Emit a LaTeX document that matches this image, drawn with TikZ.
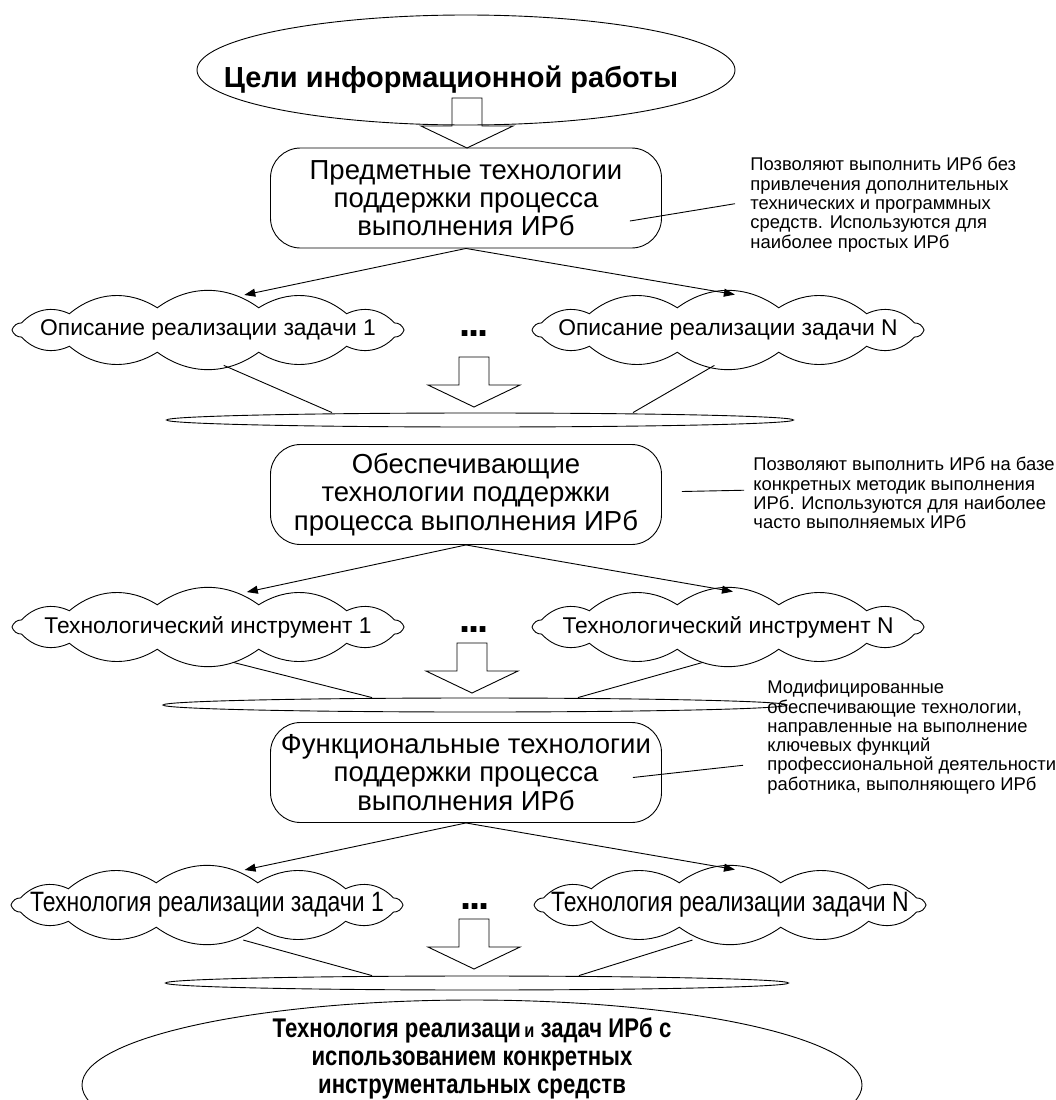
\documentclass[tikz,border=0pt]{standalone}
\usepackage{fontspec}
\setmainfont{Liberation Sans}
\newfontfamily\narrowfont[FakeStretch=0.82]{Liberation Sans}
\usetikzlibrary{positioning, arrows.meta, shapes.geometric, calc}
% hollow block arrow pointing down, tip at #1
\newcommand{\hollowdown}[1]{\draw (#1) -- ++(-46,-22) -- ++(31,0) -- ++(0,-28) -- ++(30,0) -- ++(0,28) -- ++(31,0) -- cycle;}
% puffy outline round the task node #1
\newcommand{\puffs}[1]{\draw ($(#1.center)+(196,0)$)
  \foreach \t in {18,45,75,105,135,162,180,198,225,255,285,315,342,360} {
    to[bend left=36] ($(#1.center)+({196*cos(\t)},{23*sin(\t)})$) } -- cycle;}

\begin{document}
\begin{tikzpicture}[
    x=1pt, y=-1pt,
    line width=0.9pt,
    >={Triangle[length=11pt, width=8pt]},
    goal/.style={ellipse, draw, inner sep=0pt},
    goaltext/.style={font=\fontsize{29}{31}\selectfont\bfseries},
    techbox/.style={draw, rounded corners=30pt, minimum width=391pt, minimum height=100pt, align=center, font=\fontsize{27.5}{28.3}\selectfont},
    task/.style={ellipse, minimum width=392pt, minimum height=70pt, inner sep=0pt, font=\fontsize{22.8}{24}\selectfont},
    narrowtask/.style={task, font=\narrowfont\fontsize{28}{29}\selectfont},
    collector/.style={ellipse, draw, inner sep=0pt, minimum height=14pt},
    note/.style={anchor=north west, align=left, inner sep=0pt, font=\fontsize{18.4}{19.3}\selectfont},
    dots/.style={inner sep=0pt, font=\fontsize{40}{40}\selectfont\bfseries}
  ]
  \useasboundingbox (0,0) rectangle (1056,1100);

  % --- GOAL ---
  \node[goal, minimum width=538pt, minimum height=110pt,
        label={[goaltext, xshift=-15pt, yshift=-10pt]center:Цели информационной работы}] (goal) at (466,70) {};
  \coordinate (a0) at (467,148);
  \hollowdown{a0}

  % --- LEVEL 1: subject technologies ---
  \node[techbox] (tech1) at (466,198) {Предметные технологии\\поддержки процесса\\выполнения ИРб};
  \node[note] (note1) at (750,157) {Позволяют выполнить ИРб без\\привлечения дополнительных\\технических и программных\\средств. Используются для\\наиболее простых ИРб};
  \coordinate (tag1) at ($(tech1.east)+(-32,23)$);
  \draw (tag1) -- ($(note1.west)+(-15,-1)$);

  \node[task] (desc1) at (208,330) {Описание реализации задачи 1};
  \node[dots] (dots1) at (474,334) {.\kern-2pt.\kern-2pt.};
  \node[task] (descN) at (728,330) {Описание реализации задачи N};
  \puffs{desc1} \puffs{descN}
  \draw[->] (tech1.south) -- (desc1.44);
  \draw[->] (tech1.south) -- (descN.79);

  \coordinate (a1) at (474,407);
  \hollowdown{a1}
  \node[collector, minimum width=627pt] (sum1) at (480,420) {};
  \draw (desc1.-66) -- ($(sum1.north)+(-148,0)$);
  \draw (descN.-111) -- ($(sum1.north)+(153,0)$);

  % --- LEVEL 2: supporting technologies ---
  \node[techbox] (tech2) at (466,494.5) {Обеспечивающие\\технологии поддержки\\процесса выполнения ИРб};
  \node[note] (note2) at (753,457) {Позволяют выполнить ИРб на базе\\конкретных методик выполнения\\ИРб. Используются для наиболее\\часто выполняемых ИРб};
  \coordinate (tag2) at ($(tech2.east)+(20,-3)$);
  \draw (tag2) -- ($(note2.west)+(-9,-3)$);

  \node[task] (tool1) at (208,627) {Технологический инструмент 1};
  \node[dots] (dots2) at (474,630) {.\kern-2pt.\kern-2pt.};
  \node[task] (toolN) at (728,627) {Технологический инструмент N};
  \puffs{tool1} \puffs{toolN}
  \draw[->] (tech2.south) -- (tool1.42);
  \draw[->] (tech2.south) -- (toolN.82);

  \coordinate (a2) at (472,693);
  \hollowdown{a2}
  \node[collector, minimum width=624pt] (sum2) at (475,705) {};
  \draw (tool1.-55) -- ($(sum2.north)+(-103,0)$);
  \draw (toolN.-125) -- ($(sum2.north)+(103,0)$);

  % --- LEVEL 3: functional technologies ---
  \node[techbox] (tech3) at (466,772.5) {Функциональные технологии\\поддержки процесса\\выполнения ИРб};
  \node[note] (note3) at (767,680) {Модифицированные\\обеспечивающие технологии,\\направленные на выполнение\\ключевых функций\\профессиональной деятельности\\работника, выполняющего ИРб};
  \coordinate (tag3) at ($(tech3.east)+(-29,5)$);
  \draw (tag3) -- ($(note3.west)+(-24,28)$);

  \node[narrowtask] (impl1) at (207,905) {Технология реализации задачи 1};
  \node[dots] (dots3) at (475,907) {.\kern-2pt.\kern-2pt.};
  \node[narrowtask] (implN) at (730,905) {Технология реализации задачи N};
  \puffs{impl1} \puffs{implN}
  \draw[->] (tech3.south) -- (impl1.43);
  \draw[->] (tech3.south) -- (implN.82);

  \coordinate (a3) at (474,969);
  \hollowdown{a3}
  \node[collector, minimum width=623pt] (sum3) at (477,983) {};
  \draw (impl1.-44) -- ($(sum3.north)+(-105,0)$);
  \draw (implN.-137) -- ($(sum3.north)+(102,0)$);

  % --- RESULT ---
  \node[goal, minimum width=780pt, minimum height=170pt,
        label={[align=center, yshift=27pt, font=\narrowfont\fontsize{27}{28}\selectfont\bfseries]center:Технология реализаци{\fontsize{20}{28}\selectfont\,и} задач ИРб с\\использованием конкретных\\инструментальных средств}] (result) at (472,1085) {};

\end{tikzpicture}
\end{document}
